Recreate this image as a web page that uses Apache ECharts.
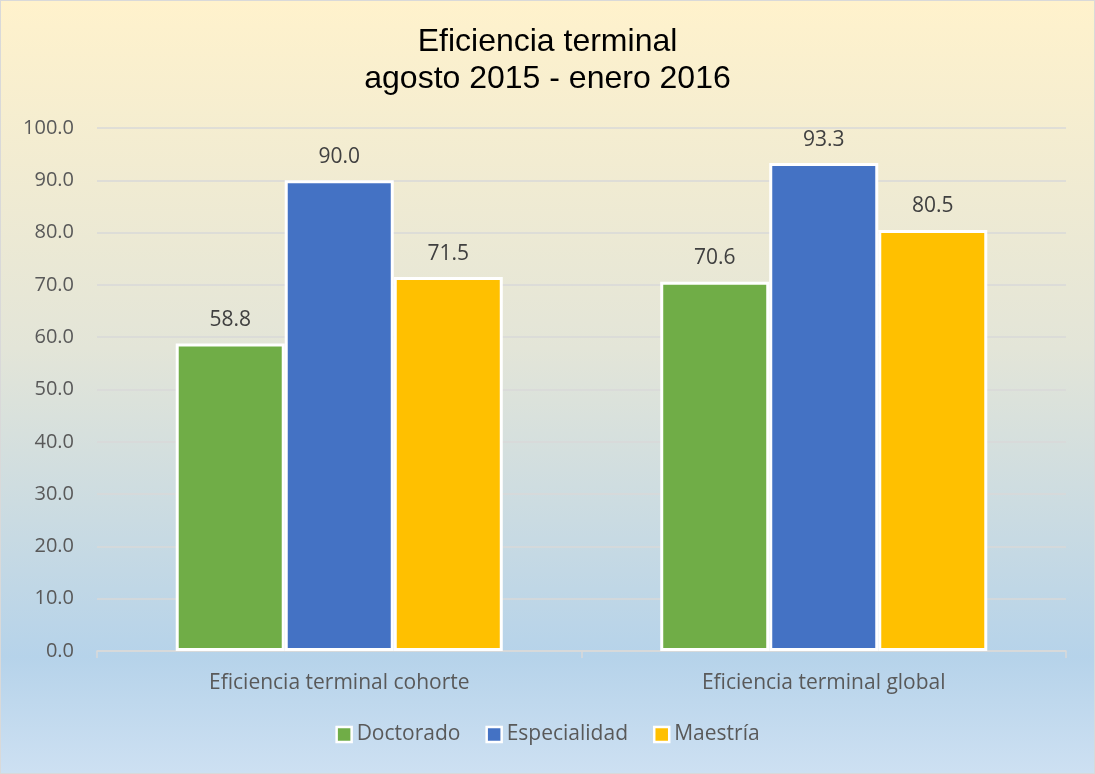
<!DOCTYPE html>
<html>
<head>
<meta charset="utf-8">
<script src="https://cdn.jsdelivr.net/npm/echarts@6/dist/echarts.min.js"></script>
<style>
    html, body { margin: 0; padding: 0; }
    #chart {
        width: 1093px; height: 772px;
        border: 1px solid #d9d9d9;
        background: linear-gradient(to bottom, #fff2cc 0%, #e3e5d8 45%, #b6d3ea 85%, #cde0f2 100%);
    }
</style>
</head>
<body>
<div id="chart"></div>
<script>
// 数据
var categories = ["Eficiencia terminal cohorte", "Eficiencia terminal global"];
var doctorado = [58.8, 70.6];
var especialidad = [90.0, 93.3];
var maestria = [71.5, 80.5];
var seriesNames = ["Doctorado", "Especialidad", "Maestría"];

(function () {
    var myChart = echarts.init(document.getElementById("chart"));
    var labelFont = "'Open Sans', 'Noto Sans', sans-serif";

    function makeSeries(name, data) {
        return {
            name: name,
            type: "bar",
            data: data,
            barGap: "0%",
            barCategoryGap: "32.5%",
            itemStyle: {
                borderColor: "#ffffff",
                borderWidth: 3
            },
            label: {
                show: true,
                position: "top",
                distance: 13,
                color: "#404040",
                fontSize: 21,
                fontFamily: labelFont,
                formatter: function (p) { return p.value.toFixed(1); }
            }
        };
    }

    var option = {
        backgroundColor: "transparent",
        color: ["#70ad47", "#4472c4", "#ffc000"],
        title: {
            text: "Eficiencia terminal\nagosto 2015 - enero 2016",
            left: "center",
            top: 18,
            textStyle: {
                color: "#000",
                fontSize: 32,
                fontWeight: "normal",
                fontFamily: "'Liberation Sans', Arial, sans-serif",
                lineHeight: 37
            }
        },
        legend: {
            bottom: 23,
            left: "center",
            itemWidth: 15,
            itemHeight: 15,
            itemGap: 25,
            itemTextGap: 5,
            icon: "rect",
            itemStyle: { borderColor: "#ffffff", borderWidth: 2.5 },
            textStyle: { color: "#595959", fontSize: 21, fontFamily: labelFont }
        },
        grid: {
            left: 96,
            right: 28,
            top: 127,
            bottom: 122,
            containLabel: false
        },
        xAxis: {
            type: "category",
            data: categories,
            axisLine: { lineStyle: { color: "#d9d9d9", width: 1.5 } },
            axisTick: { show: true, length: 7, lineStyle: { color: "#d9d9d9", width: 1.5 } },
            axisLabel: {
                color: "#595959",
                fontSize: 21,
                fontFamily: labelFont,
                margin: 22
            }
        },
        yAxis: {
            type: "value",
            min: 0,
            max: 100,
            interval: 10,
            axisLine: { show: false },
            axisTick: { show: false },
            splitLine: { lineStyle: { color: "#d9d9d9", width: 1.5 } },
            axisLabel: {
                color: "#595959",
                fontSize: 20,
                fontFamily: labelFont,
                margin: 23,
                formatter: function (v) { return v.toFixed(1); }
            }
        },
        series: [
            makeSeries(seriesNames[0], doctorado),
            makeSeries(seriesNames[1], especialidad),
            makeSeries(seriesNames[2], maestria)
        ]
    };

    myChart.setOption(option);
    window.addEventListener("resize", function () {
        myChart.resize();
    });
})();
</script>
</body>
</html>
